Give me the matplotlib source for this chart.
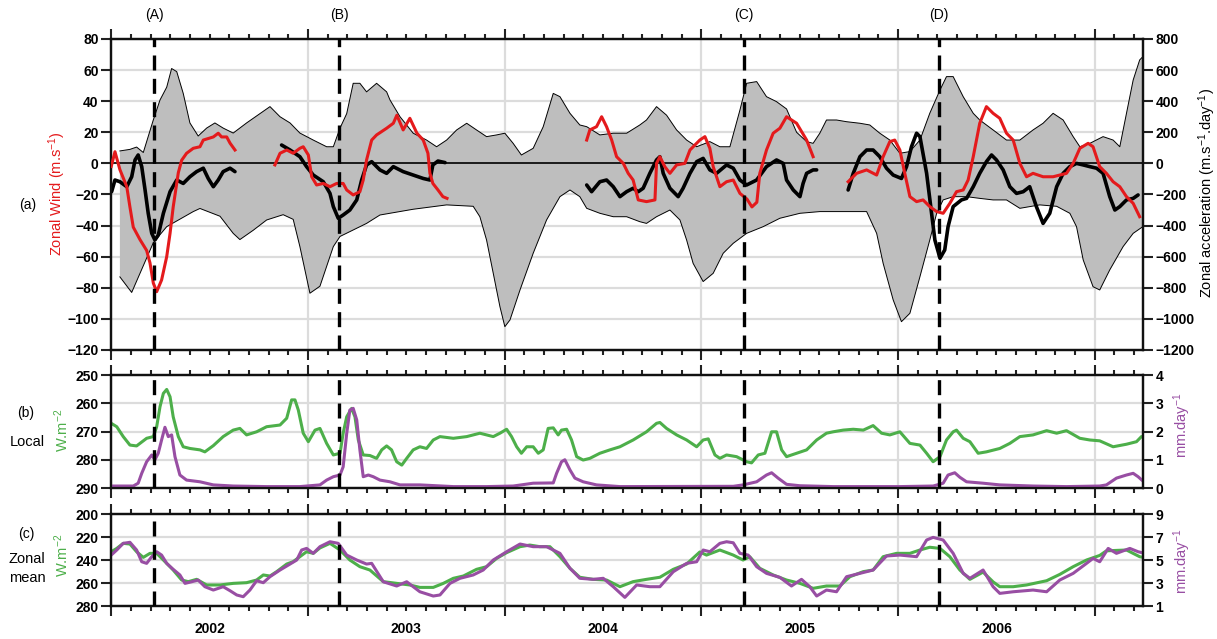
import numpy as np
import matplotlib
matplotlib.use('Agg')
import matplotlib.pyplot as plt
from matplotlib.ticker import MultipleLocator, NullFormatter

plt.rcParams['font.family'] = ['Liberation Sans', 'DejaVu Sans']
plt.rcParams['mathtext.default'] = 'regular'

RED = '#e41a1c'
GREEN = '#4daf4a'
PURPLE = '#984ea3'
BAND = '#bebebe'
GRID = '#dcdcdc'
nan = np.nan

years = [2002, 2003, 2004, 2005, 2006]
event_t = [2002.218, 2003.158, 2005.216, 2006.207]
event_lab = ['(A)', '(B)', '(C)', '(D)']

# (a) envelope of zonal acceleration (m/s/day)
env_up = [(2002.044, 80), (2002.095, 90), (2002.129, 105), (2002.163, 70), (2002.214, 280),
          (2002.248, 408), (2002.282, 490), (2002.307, 610), (2002.333, 590), (2002.366, 450),
          (2002.400, 260), (2002.442, 176), (2002.485, 227), (2002.527, 260), (2002.569, 227),
          (2002.620, 195), (2002.688, 260), (2002.756, 320), (2002.807, 365), (2002.858, 300),
          (2002.909, 260), (2002.959, 195), (2003.027, 150), (2003.095, 107), (2003.129, 107),
          (2003.163, 227), (2003.197, 320), (2003.230, 515), (2003.264, 515), (2003.298, 460),
          (2003.349, 515), (2003.400, 460), (2003.417, 408), (2003.468, 300), (2003.535, 194),
          (2003.603, 150), (2003.654, 107), (2003.705, 150), (2003.756, 215), (2003.807, 258),
          (2003.857, 215), (2003.908, 172), (2003.959, 183), (2004.001, 194), (2004.043, 129),
          (2004.085, 54), (2004.145, 97), (2004.196, 236), (2004.247, 450), (2004.281, 429),
          (2004.332, 322), (2004.382, 247), (2004.417, 236), (2004.484, 183), (2004.552, 194),
          (2004.620, 194), (2004.687, 247), (2004.721, 279), (2004.772, 365), (2004.823, 310),
          (2004.874, 215), (2004.925, 150), (2004.976, 107), (2005.043, 140), (2005.094, 107),
          (2005.145, 107), (2005.196, 343), (2005.230, 515), (2005.281, 526), (2005.331, 429),
          (2005.382, 397), (2005.433, 350), (2005.484, 200), (2005.535, 140), (2005.568, 129),
          (2005.602, 194), (2005.636, 279), (2005.687, 279), (2005.738, 268), (2005.806, 258),
          (2005.856, 247), (2005.907, 194), (2005.958, 150), (2006.009, 65), (2006.060, 76),
          (2006.111, 150), (2006.161, 322), (2006.213, 472), (2006.246, 558), (2006.280, 558),
          (2006.331, 429), (2006.382, 322), (2006.415, 279), (2006.483, 215), (2006.551, 150),
          (2006.619, 150), (2006.686, 215), (2006.737, 258), (2006.788, 322), (2006.839, 279),
          (2006.890, 172), (2006.924, 107), (2006.975, 129), (2007.042, 172), (2007.093, 150),
          (2007.127, 107), (2007.161, 322), (2007.195, 536), (2007.228, 665), (2007.244, 686)]

env_lo = [(2002.044, -730), (2002.104, -830), (2002.214, -510), (2002.282, -407), (2002.417, -310),
          (2002.451, -290), (2002.553, -340), (2002.620, -450), (2002.654, -490), (2002.722, -430),
          (2002.790, -364), (2002.874, -330), (2002.925, -360), (2002.959, -535), (2003.010, -835),
          (2003.061, -790), (2003.129, -535), (2003.163, -470), (2003.298, -386), (2003.366, -332),
          (2003.535, -295), (2003.705, -267), (2003.840, -276), (2003.874, -343), (2003.908, -493),
          (2003.942, -707), (2003.976, -922), (2004.001, -1050), (2004.027, -1007), (2004.078, -814),
          (2004.145, -578), (2004.213, -364), (2004.281, -214), (2004.332, -171), (2004.382, -214),
          (2004.417, -289), (2004.484, -321), (2004.552, -343), (2004.620, -343), (2004.687, -375),
          (2004.721, -386), (2004.772, -343), (2004.840, -300), (2004.891, -364), (2004.925, -493),
          (2004.958, -643), (2005.009, -760), (2005.060, -707), (2005.111, -578), (2005.162, -514),
          (2005.230, -450), (2005.314, -407), (2005.399, -353), (2005.501, -321), (2005.602, -310),
          (2005.738, -310), (2005.840, -310), (2005.891, -450), (2005.924, -643), (2005.975, -878),
          (2006.017, -1018), (2006.060, -964), (2006.111, -729), (2006.161, -493), (2006.196, -321),
          (2006.229, -235), (2006.280, -214), (2006.348, -214), (2006.415, -225), (2006.483, -235),
          (2006.551, -235), (2006.619, -289), (2006.720, -267), (2006.806, -276), (2006.873, -321),
          (2006.907, -407), (2006.941, -621), (2006.991, -793), (2007.025, -814), (2007.076, -685),
          (2007.144, -535), (2007.195, -450), (2007.244, -407)]

# (a) zonal wind (m/s)
wind = [(2002.000, -2), (2002.019, 7.5), (2002.044, -4), (2002.079, -15), (2002.095, -28),
        (2002.112, -41), (2002.146, -49), (2002.180, -56), (2002.197, -64), (2002.214, -77),
        (2002.231, -82.5), (2002.256, -75), (2002.282, -60), (2002.299, -45), (2002.315, -28),
        (2002.341, -6), (2002.358, 2), (2002.383, 6.5), (2002.417, 9.7), (2002.451, 10.7),
        (2002.468, 15), (2002.519, 17), (2002.544, 19.4), (2002.561, 17), (2002.587, 17),
        (2002.604, 13), (2002.629, 8.6), (nan, nan),
        (2002.832, -1), (2002.858, 6.5), (2002.892, 8.6), (2002.925, 6.5), (2002.959, 9.7),
        (2002.976, 10.7), (2003.002, 5.4), (2003.019, -8.6), (2003.044, -13.9), (2003.078, -12.9),
        (2003.112, -15), (2003.146, -12.9), (2003.179, -12.9), (2003.197, -17.1), (2003.230, -20.3),
        (2003.264, -18.2), (2003.281, -10.7), (2003.298, 2.2), (2003.324, 15), (2003.349, 18.3),
        (2003.400, 22.6), (2003.434, 25.8), (2003.452, 31), (2003.484, 21.5), (2003.518, 29),
        (2003.554, 19.4), (2003.586, 15), (2003.610, 6.5), (2003.620, -6.4), (2003.635, -12.9),
        (2003.661, -17.1), (2003.686, -21.4), (2003.707, -22.5), (nan, nan),
        (2004.417, 15), (2004.433, 21.5), (2004.467, 23.6), (2004.493, 30), (2004.518, 23.6),
        (2004.544, 15), (2004.569, 4.3), (2004.603, 0), (2004.628, -6.4), (2004.653, -10.7),
        (2004.679, -23.5), (2004.721, -24.6), (2004.764, -23.5), (2004.772, 0), (2004.789, 4.3),
        (2004.814, -2.1), (2004.840, -6.4), (2004.874, -1), (2004.916, 0), (2004.942, 8.6),
        (2004.992, 15), (2005.018, 17.2), (2005.043, 9.7), (2005.060, -2.1), (2005.094, -15),
        (2005.128, -11.8), (2005.162, -10.7), (2005.196, -19.3), (2005.232, -23), (2005.257, -28),
        (2005.282, -25), (2005.297, -6.4), (2005.331, 8.6), (2005.365, 19.4), (2005.399, 22.6),
        (2005.433, 30), (2005.484, 25.8), (2005.535, 15), (2005.568, 4.3), (nan, nan),
        (2005.746, -11.8), (2005.789, -6.4), (2005.840, -4.2), (2005.891, -7.5), (2005.924, 4.3),
        (2005.958, 14), (2005.983, 15), (2006.009, 8.6), (2006.034, -6.4), (2006.060, -21.4),
        (2006.094, -24.6), (2006.127, -23.5), (2006.161, -27.8), (2006.196, -31), (2006.229, -32.1),
        (2006.263, -25.7), (2006.297, -18.2), (2006.331, -17.1), (2006.356, -10.7), (2006.382, 4.3),
        (2006.415, 25.8), (2006.449, 36.5), (2006.483, 32.2), (2006.517, 29), (2006.551, 19.4),
        (2006.585, 15), (2006.619, 0), (2006.653, -8.6), (2006.686, -6.4), (2006.737, -8.6),
        (2006.788, -8.6), (2006.856, -6.4), (2006.890, 0), (2006.924, 9.7), (2006.966, 12.9),
        (2006.991, 10.7), (2007.025, -2.1), (2007.059, -6.4), (2007.093, -11.8), (2007.127, -15),
        (2007.161, -21.4), (2007.195, -25.7), (2007.228, -34.3)]

# (a) zonal acceleration (m/s/day)
accel = [(2002.002, -182), (2002.019, -107), (2002.044, -118), (2002.079, -150), (2002.104, -86),
         (2002.121, 22), (2002.137, 54), (2002.155, -21), (2002.172, -171), (2002.188, -321),
         (2002.206, -450), (2002.222, -493), (2002.239, -461), (2002.265, -321), (2002.299, -182),
         (2002.333, -107), (2002.366, -129), (2002.400, -86), (2002.434, -53), (2002.468, -31),
         (2002.493, -97), (2002.519, -150), (2002.544, -107), (2002.569, -53), (2002.604, -31),
         (2002.629, -53), (nan, nan),
         (2002.866, 118), (2002.909, 86), (2002.959, 43), (2002.993, -21), (2003.027, -75),
         (2003.078, -118), (2003.112, -193), (2003.129, -278), (2003.154, -353), (2003.179, -332),
         (2003.213, -300), (2003.248, -235), (2003.273, -107), (2003.298, -10), (2003.324, 11),
         (2003.366, -42), (2003.400, -64), (2003.434, -21), (2003.484, -53), (2003.535, -75),
         (2003.586, -97), (2003.620, -107), (2003.635, -10), (2003.661, 15), (2003.697, 5), (nan, nan),
         (2004.417, -139), (2004.442, -182), (2004.484, -118), (2004.518, -107), (2004.552, -150),
         (2004.586, -214), (2004.620, -182), (2004.653, -160), (2004.679, -182), (2004.704, -160),
         (2004.738, -64), (2004.772, 22), (2004.789, 43), (2004.806, -64), (2004.840, -160),
         (2004.882, -214), (2004.907, -160), (2004.942, -64), (2004.976, 11), (2005.009, 32),
         (2005.043, -42), (2005.077, -64), (2005.128, -10), (2005.162, -31), (2005.196, -107),
         (2005.230, -139), (2005.281, -107), (2005.331, -21), (2005.382, 22), (2005.416, 0),
         (2005.433, -107), (2005.467, -171), (2005.501, -214), (2005.517, -129), (2005.535, -64),
         (2005.568, -42), (2005.586, -42), (nan, nan),
         (2005.746, -171), (2005.772, -64), (2005.806, 43), (2005.840, 86), (2005.873, 86),
         (2005.907, 43), (2005.941, -31), (2005.975, -75), (2006.017, -97), (2006.043, -21),
         (2006.068, 107), (2006.094, 194), (2006.111, 172), (2006.145, -64), (2006.170, -321),
         (2006.187, -493), (2006.213, -610), (2006.237, -557), (2006.254, -407), (2006.280, -278),
         (2006.322, -235), (2006.348, -225), (2006.382, -150), (2006.415, -64), (2006.449, 11),
         (2006.475, 54), (2006.500, 22), (2006.534, -42), (2006.568, -150), (2006.602, -193),
         (2006.636, -182), (2006.669, -150), (2006.703, -278), (2006.737, -386), (2006.771, -321),
         (2006.806, -150), (2006.839, -64), (2006.873, -21), (2006.907, 0), (2006.941, -10),
         (2006.975, -21), (2007.009, -31), (2007.042, -64), (2007.076, -214), (2007.102, -300),
         (2007.127, -278), (2007.161, -235), (2007.195, -225), (2007.220, -203)]

# (b) local OLR (W/m2) and precipitation (mm/day)
olr_loc = [(2002.000, 267.1), (2002.028, 268.3), (2002.061, 271.8), (2002.095, 274.8), (2002.129, 275.1),
           (2002.146, 274.2), (2002.180, 272.4), (2002.214, 271.8), (2002.231, 268.3), (2002.248, 261.2),
           (2002.265, 256.5), (2002.282, 255.1), (2002.299, 257.7), (2002.315, 264.8), (2002.341, 271.8),
           (2002.366, 275.4), (2002.400, 276), (2002.451, 276.5), (2002.476, 277.2), (2002.519, 275),
           (2002.569, 271.8), (2002.620, 269.5), (2002.654, 268.9), (2002.688, 271.2), (2002.739, 270.1),
           (2002.790, 268.3), (2002.858, 267.7), (2002.892, 265.3), (2002.917, 258.8), (2002.934, 258.8),
           (2002.951, 262.4), (2002.976, 270.6), (2003.002, 273.6), (2003.036, 269.5), (2003.061, 268.9),
           (2003.095, 274.2), (2003.129, 278.3), (2003.163, 277.7), (2003.179, 270.6), (2003.197, 264.8),
           (2003.222, 261.8), (2003.239, 264.8), (2003.256, 273), (2003.281, 278.3), (2003.315, 278.5),
           (2003.349, 279.5), (2003.375, 276.5), (2003.400, 275.1), (2003.425, 276.5), (2003.451, 280.7),
           (2003.477, 281.9), (2003.502, 279.5), (2003.535, 276.5), (2003.569, 275.4), (2003.603, 276),
           (2003.637, 273), (2003.671, 271.8), (2003.739, 272.4), (2003.807, 271.8), (2003.874, 270.6),
           (2003.908, 271.2), (2003.942, 271.8), (2003.976, 270.6), (2004.010, 269.2), (2004.035, 271.8),
           (2004.061, 275.4), (2004.085, 277.7), (2004.112, 275.4), (2004.145, 275.4), (2004.171, 277.7),
           (2004.196, 276.5), (2004.221, 268.9), (2004.247, 268.7), (2004.272, 271.2), (2004.289, 269.5),
           (2004.315, 269.2), (2004.340, 273), (2004.366, 278.9), (2004.399, 280.1), (2004.433, 279.5),
           (2004.484, 277.7), (2004.535, 276.5), (2004.586, 275.4), (2004.653, 273), (2004.721, 270.1),
           (2004.772, 267.1), (2004.789, 266.8), (2004.823, 268.9), (2004.874, 271.2), (2004.925, 273),
           (2004.976, 275.4), (2005.009, 273), (2005.035, 272.6), (2005.069, 278.3), (2005.094, 279.5),
           (2005.128, 278.3), (2005.179, 278.9), (2005.230, 280.7), (2005.255, 281.1), (2005.289, 278.3),
           (2005.323, 277.7), (2005.357, 270.1), (2005.382, 270.1), (2005.408, 276.5), (2005.433, 278.9),
           (2005.484, 277.7), (2005.535, 276.5), (2005.586, 273), (2005.636, 270.6), (2005.670, 270.1),
           (2005.721, 269.5), (2005.772, 269.2), (2005.823, 269.5), (2005.873, 267.9), (2005.916, 270.6),
           (2005.958, 271.2), (2006.009, 270.1), (2006.060, 274.2), (2006.111, 274.8), (2006.145, 277.7),
           (2006.178, 280.7), (2006.213, 278.9), (2006.246, 273), (2006.280, 270.1), (2006.297, 269.5),
           (2006.331, 272.4), (2006.365, 273.6), (2006.407, 277.7), (2006.449, 277.2), (2006.517, 276),
           (2006.568, 274.2), (2006.619, 271.8), (2006.686, 271.2), (2006.755, 269.7), (2006.806, 270.6),
           (2006.856, 269.7), (2006.924, 272.4), (2006.975, 273), (2007.025, 273.3), (2007.093, 275.4),
           (2007.161, 274.5), (2007.212, 273.6), (2007.237, 271.8), (2007.254, 272)]

pr_loc = [(2002.000, 0.07), (2002.112, 0.07), (2002.137, 0.17), (2002.155, 0.52), (2002.180, 0.93),
          (2002.206, 1.17), (2002.222, 1.0), (2002.239, 1.23), (2002.256, 1.70), (2002.273, 2.15),
          (2002.290, 1.82), (2002.307, 1.88), (2002.324, 1.11), (2002.349, 0.46), (2002.383, 0.28),
          (2002.451, 0.22), (2002.519, 0.11), (2002.620, 0.07), (2002.790, 0.05), (2002.959, 0.05),
          (2003.061, 0.11), (2003.095, 0.28), (2003.129, 0.40), (2003.163, 0.46), (2003.179, 0.75),
          (2003.197, 1.93), (2003.213, 2.76), (2003.230, 2.82), (2003.248, 2.41), (2003.264, 1.35),
          (2003.281, 0.40), (2003.307, 0.46), (2003.332, 0.40), (2003.366, 0.28), (2003.417, 0.22),
          (2003.468, 0.11), (2003.569, 0.11), (2003.739, 0.05), (2003.908, 0.05), (2004.043, 0.07),
          (2004.145, 0.17), (2004.247, 0.18), (2004.264, 0.52), (2004.289, 0.93), (2004.306, 1.0),
          (2004.332, 0.64), (2004.357, 0.35), (2004.399, 0.22), (2004.467, 0.11), (2004.586, 0.05),
          (2005.162, 0.06), (2005.212, 0.11), (2005.281, 0.22), (2005.331, 0.46), (2005.357, 0.54),
          (2005.390, 0.35), (2005.433, 0.13), (2005.501, 0.08), (2005.670, 0.05), (2006.009, 0.05),
          (2006.178, 0.07), (2006.229, 0.17), (2006.254, 0.46), (2006.288, 0.54), (2006.314, 0.38),
          (2006.348, 0.22), (2006.432, 0.17), (2006.517, 0.11), (2006.686, 0.07), (2006.856, 0.05),
          (2007.025, 0.07), (2007.059, 0.11), (2007.110, 0.35), (2007.161, 0.46), (2007.195, 0.52),
          (2007.220, 0.40), (2007.254, 0.19)]

# (c) zonal-mean OLR (W/m2) and precipitation (mm/day)
olr_zm = [(2002.000, 232.8), (2002.028, 229.9), (2002.061, 225.5), (2002.095, 226.1), (2002.129, 232.8),
          (2002.163, 237.7), (2002.197, 234.2), (2002.231, 234.2), (2002.265, 240), (2002.315, 248.7),
          (2002.358, 257.4), (2002.392, 258.8), (2002.434, 256.8), (2002.485, 261.7), (2002.553, 261.7),
          (2002.620, 260.3), (2002.688, 259.7), (2002.739, 257.4), (2002.773, 253), (2002.807, 253.9),
          (2002.841, 250.1), (2002.892, 243.5), (2002.925, 241.4), (2002.959, 237.1), (2002.993, 232.8),
          (2003.027, 234.2), (2003.061, 229.5), (2003.112, 225.5), (2003.163, 231.3), (2003.213, 240),
          (2003.264, 245.8), (2003.315, 248.7), (2003.383, 258.8), (2003.451, 260.3), (2003.518, 261.7),
          (2003.569, 263.8), (2003.637, 263.8), (2003.688, 260.3), (2003.739, 255.9), (2003.790, 253.9),
          (2003.857, 248.1), (2003.908, 245.8), (2003.959, 238.6), (2004.010, 233.6), (2004.078, 228.4),
          (2004.128, 227), (2004.179, 228.4), (2004.230, 228.4), (2004.281, 237.1), (2004.332, 247.2),
          (2004.382, 255), (2004.450, 256.8), (2004.518, 257.4), (2004.586, 263.2), (2004.653, 258.8),
          (2004.721, 256.8), (2004.789, 255), (2004.857, 248.1), (2004.925, 243.5), (2004.992, 233),
          (2005.026, 235.7), (2005.094, 231.3), (2005.162, 235.7), (2005.212, 240), (2005.246, 237.1),
          (2005.297, 247.2), (2005.365, 253), (2005.433, 257.4), (2005.501, 260.3), (2005.568, 264.6),
          (2005.636, 262.6), (2005.704, 262.6), (2005.755, 254.5), (2005.823, 250.1), (2005.873, 248.7),
          (2005.924, 237.1), (2005.992, 234.2), (2006.060, 234.2), (2006.111, 231.3), (2006.161, 228.9),
          (2006.213, 229.9), (2006.263, 237.1), (2006.314, 248.7), (2006.365, 256.8), (2006.432, 250.5),
          (2006.483, 259), (2006.517, 263.2), (2006.585, 263.2), (2006.653, 261.7), (2006.755, 258),
          (2006.822, 252.5), (2006.890, 245.8), (2006.958, 240), (2007.025, 236), (2007.059, 232),
          (2007.161, 231.3), (2007.228, 237.1), (2007.254, 238)]

pr_zm = [(2002.000, 5.43), (2002.028, 5.87), (2002.061, 6.45), (2002.095, 6.54), (2002.129, 5.87),
         (2002.155, 4.85), (2002.180, 4.71), (2002.206, 5.29), (2002.231, 5.72), (2002.256, 5.43),
         (2002.282, 4.71), (2002.315, 4.19), (2002.349, 3.70), (2002.375, 2.97), (2002.409, 3.11),
         (2002.442, 3.26), (2002.476, 2.68), (2002.519, 2.39), (2002.569, 2.68), (2002.604, 2.33),
         (2002.638, 1.96), (2002.671, 1.81), (2002.705, 2.39), (2002.739, 3.20), (2002.773, 3.03),
         (2002.807, 3.55), (2002.858, 4.13), (2002.909, 4.65), (2002.943, 5.0), (2002.968, 5.87),
         (2002.993, 6.01), (2003.027, 5.58), (2003.061, 6.16), (2003.112, 6.59), (2003.154, 6.45),
         (2003.197, 5.43), (2003.248, 5.0), (2003.298, 4.65), (2003.324, 4.71), (2003.383, 3.11),
         (2003.451, 2.74), (2003.502, 3.11), (2003.569, 2.24), (2003.637, 1.87), (2003.671, 1.96),
         (2003.722, 2.97), (2003.773, 3.41), (2003.840, 3.70), (2003.891, 4.13), (2003.942, 5.0),
         (2004.010, 5.72), (2004.078, 6.39), (2004.145, 6.16), (2004.213, 6.16), (2004.281, 5.58),
         (2004.332, 4.28), (2004.382, 3.41), (2004.450, 3.32), (2004.501, 3.41), (2004.552, 2.68),
         (2004.611, 1.75), (2004.671, 2.83), (2004.738, 2.68), (2004.789, 2.68), (2004.857, 3.98),
         (2004.925, 4.71), (2004.976, 4.85), (2005.009, 5.87), (2005.043, 5.72), (2005.094, 6.45),
         (2005.128, 6.59), (2005.162, 6.5), (2005.196, 5.58), (2005.238, 5.43), (2005.281, 4.42),
         (2005.331, 3.84), (2005.399, 3.49), (2005.458, 2.74), (2005.509, 3.32), (2005.551, 2.68),
         (2005.586, 1.87), (2005.636, 2.39), (2005.687, 2.24), (2005.738, 3.55), (2005.806, 3.84),
         (2005.873, 4.13), (2005.941, 5.35), (2006.009, 5.43), (2006.094, 5.29), (2006.145, 6.74),
         (2006.178, 6.97), (2006.229, 6.74), (2006.280, 5.58), (2006.331, 3.84), (2006.365, 3.41),
         (2006.432, 4.13), (2006.483, 2.68), (2006.517, 2.10), (2006.585, 2.24), (2006.686, 2.39),
         (2006.755, 2.24), (2006.822, 3.26), (2006.890, 3.84), (2006.958, 4.71), (2006.991, 5.14),
         (2007.025, 4.85), (2007.068, 6.01), (2007.110, 5.58), (2007.178, 6.01), (2007.220, 5.72),
         (2007.254, 5.58)]


def xy(pts):
    a = np.array(pts, dtype=float)
    return a[:, 0], a[:, 1]


def minus(v):
    return str(v).replace('-', '\u2212')


fig = plt.figure(figsize=(12.17, 6.39), dpi=100)
L, W = 0.0914, 0.8478
ax_a = fig.add_axes([L, 0.4523, W, 0.4867])
ax_acc = ax_a.twinx()
ax_b = fig.add_axes([L, 0.2363, W, 0.1768])
ax_b2 = ax_b.twinx()
ax_c = fig.add_axes([L, 0.0516, W, 0.1440])
ax_c2 = ax_c.twinx()

# wind axis drawn above the acceleration axis
ax_a.set_zorder(ax_acc.get_zorder() + 1)
ax_a.patch.set_visible(False)

for ax in (ax_a, ax_b, ax_c):
    ax.set_xlim(2002, 2007.245)
    ax.xaxis.set_major_locator(MultipleLocator(1))
    ax.xaxis.set_minor_locator(MultipleLocator(0.1))
    ax.xaxis.set_major_formatter(NullFormatter())
    ax.tick_params(axis='x', which='both', top=True, bottom=True, direction='out',
                   width=1.5, color='#222222')
    ax.tick_params(axis='x', which='major', length=7.5)
    ax.tick_params(axis='x', which='minor', length=3.8)

for ax in (ax_a, ax_acc, ax_b, ax_b2, ax_c, ax_c2):
    for s in ax.spines.values():
        s.set_linewidth(1.6)
        s.set_color('#111111')

for ax in (ax_a, ax_b, ax_c):
    ax.tick_params(axis='y', left=True, right=False, direction='out', length=7,
                   width=1.5, pad=2, color='#222222')
for ax in (ax_acc, ax_b2, ax_c2):
    ax.tick_params(axis='y', right=True, left=False, direction='out', length=7,
                   width=1.5, pad=2, color='#222222')

# ---- panel (a)
ax_a.set_ylim(-120, 80)
ax_acc.set_ylim(-1200, 800)
t_a = list(range(-120, 81, 20))
ax_a.set_yticks(t_a, [minus(v) for v in t_a], fontsize=10, fontweight='bold')
t_acc = list(range(-1200, 801, 200))
ax_acc.set_yticks(t_acc, [minus(v) for v in t_acc], fontsize=10, fontweight='bold')
ax_acc.grid(axis='y', color=GRID, lw=1.6)
ax_acc.set_axisbelow(True)
for yr in years[1:] + [2007]:
    ax_acc.axvline(yr, color=GRID, lw=1.6, zorder=0.5)

ut, uv = xy(env_up)
lt, lv = xy(env_lo)
ax_acc.fill(np.r_[ut, lt[::-1]], np.r_[uv, lv[::-1]], color=BAND, lw=0, zorder=1)
ax_acc.plot(ut, uv, color='k', lw=0.7, zorder=2)
ax_acc.plot(lt, lv, color='k', lw=0.7, zorder=2)
ax_acc.axhline(0, color='k', lw=1.2, zorder=3)
at, av = xy(accel)
ax_acc.plot(at, av, color='k', lw=2.6, zorder=4, solid_capstyle='round')
wt, wv = xy(wind)
ax_a.plot(wt, wv, color=RED, lw=2.2, zorder=3)

# ---- panel (b)
ax_b.set_ylim(290, 250)
ax_b2.set_ylim(0, 4)
t_b = [250, 260, 270, 280, 290]
ax_b.set_yticks(t_b, [str(v) for v in t_b], fontsize=10, fontweight='bold')
ax_b2.set_yticks([0, 1, 2, 3, 4], ['0', '1', '2', '3', '4'], fontsize=10, fontweight='bold')
ax_b.grid(axis='y', color=GRID, lw=1.6)
ax_b.grid(axis='x', which='major', color=GRID, lw=1.6)
ax_b.set_axisbelow(True)
ot, ov = xy(olr_loc)
ax_b.plot(ot, ov, color=GREEN, lw=2.2)
pt, pv = xy(pr_loc)
ax_b2.plot(pt, pv, color=PURPLE, lw=2.2)

# ---- panel (c)
ax_c.set_ylim(280, 200)
ax_c2.set_ylim(1, 9)
t_c = [200, 220, 240, 260, 280]
ax_c.set_yticks(t_c, [str(v) for v in t_c], fontsize=10, fontweight='bold')
ax_c2.set_yticks([1, 3, 5, 7, 9], ['1', '3', '5', '7', '9'], fontsize=10, fontweight='bold')
ax_c.grid(axis='y', color=GRID, lw=1.6)
ax_c.grid(axis='x', which='major', color=GRID, lw=1.6)
ax_c.set_axisbelow(True)
zt, zv = xy(olr_zm)
ax_c.plot(zt, zv, color=GREEN, lw=2.2)
qt, qv = xy(pr_zm)
ax_c2.plot(qt, qv, color=PURPLE, lw=2.2)

# event markers
for ax in (ax_a, ax_b2, ax_c2):
    for t in event_t:
        ax.axvline(t, color='k', lw=2.4, ls=(0, (4.5, 2.5)), zorder=6)
for t, lab in zip(event_t, event_lab):
    ax_a.text(t, 1.077, lab, transform=ax_a.get_xaxis_transform(), ha='center',
              va='center', fontsize=10)

for yr in years:
    ax_c.text(yr + 0.5, -0.25, str(yr), transform=ax_c.get_xaxis_transform(),
              ha='center', va='center', fontsize=10, fontweight='bold')


def ftext(x, y, s, **kw):
    fig.text(x / 1217, 1 - y / 639, s, ha='center', va='center', **kw)


ftext(28, 205, '(a)', fontsize=10)
ftext(57, 194, 'Zonal Wind (m.s$^{-1}$)', rotation=90, color=RED, fontsize=10.5)
ftext(1207, 193, 'Zonal acceleration (m.s$^{-1}$.day$^{-1}$)', rotation=90, fontsize=10.5)
ftext(26, 413, '(b)', fontsize=10)
ftext(27, 442, 'Local', fontsize=10.5)
ftext(62, 430, 'W.m$^{-2}$', rotation=90, color=GREEN, fontsize=10.5)
ftext(1182, 425, 'mm.day$^{-1}$', rotation=90, color=PURPLE, fontsize=10.5)
ftext(26, 534, '(c)', fontsize=10)
ftext(27, 559, 'Zonal', fontsize=10.5)
ftext(27, 578, 'mean', fontsize=10.5)
ftext(62, 555, 'W.m$^{-2}$', rotation=90, color=GREEN, fontsize=10.5)
ftext(1182, 561, 'mm.day$^{-1}$', rotation=90, color=PURPLE, fontsize=10.5)

fig.savefig('out.png', dpi=100, facecolor='white')
